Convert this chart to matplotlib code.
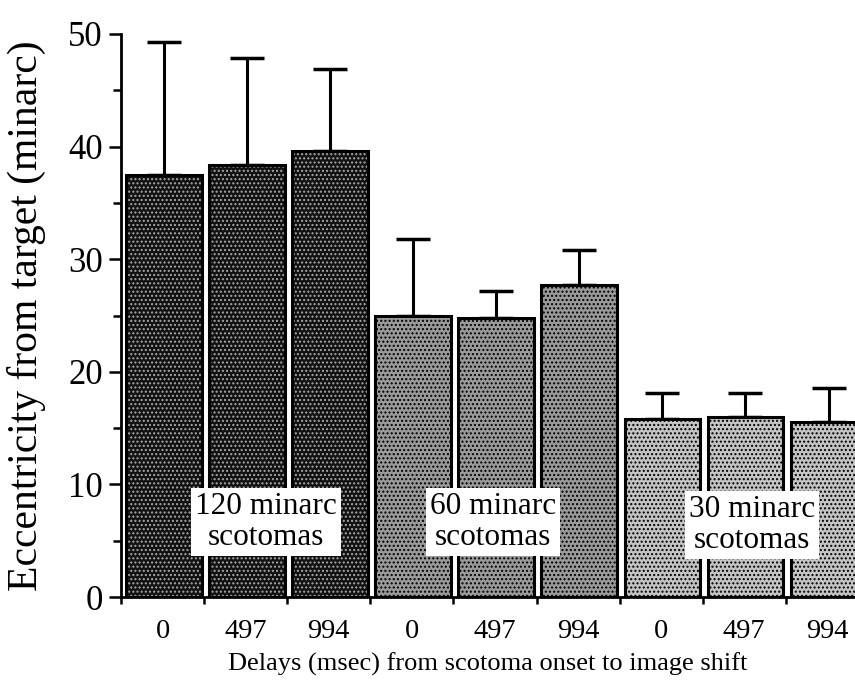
import matplotlib
matplotlib.use("Agg")
import matplotlib.pyplot as plt
import numpy as np

plt.rcParams['font.family'] = ['Liberation Serif', 'DejaVu Serif']

delays = ["0", "497", "994", "0", "497", "994", "0", "497", "994"]
groups = ["120 minarc\nscotomas", "60 minarc\nscotomas", "30 minarc\nscotomas"]
means = [37.5, 38.4, 39.6, 25.0, 24.8, 27.7, 15.8, 16.0, 15.5]
upper = [49.3, 47.9, 46.9, 31.8, 27.2, 30.8, 18.1, 18.1, 18.6]
errors = [u - m for u, m in zip(upper, means)]
yticks = [0, 10, 20, 30, 40, 50]

face = ['#111111'] * 3 + ['#9a9a9a'] * 3 + ['#c4c4c4'] * 3
hcol = ['#a8a8a8'] * 3 + ['black'] * 3 + ['black'] * 3

plt.rcParams['hatch.linewidth'] = 1.0

fig = plt.figure(figsize=(8.55, 6.92), dpi=100)
ax = fig.add_axes([121 / 855, 95 / 692, 1 - 121 / 855, 563 / 692])

x = np.arange(len(means))
width = 0.91
left = x + 0.06
for i in range(len(means)):
    ax.bar(left[i], means[i], width=width, align='edge', color=face[i],
           edgecolor=hcol[i], hatch='....', linewidth=0, zorder=2)
ax.bar(left, means, width=width, align='edge', facecolor='none',
       edgecolor='black', linewidth=2.2, zorder=3)
ax.errorbar(left + width / 2, means, yerr=[np.zeros(len(errors)), errors],
            fmt='none', ecolor='black', elinewidth=2.2, capsize=12.5,
            capthick=2.5, zorder=1)

label_pos = [(1.745, 6.66), (4.48, 6.66), (7.59, 6.4)]
for (gx, gy), g in zip(label_pos, groups):
    ax.text(gx, gy, g, ha='center', va='center', fontsize=22.5, linespacing=1.12,
            bbox=dict(facecolor='white', edgecolor='none', pad=3), zorder=5)

ax.set_xlim(0, (855 - 121) / 83.1)
ax.set_ylim(0, 50)
ax.set_xticks(np.arange(0, 9))
ax.set_xticklabels([])
ax.set_xticks(x + 0.5, minor=True)
ax.set_xticklabels(delays, minor=True, fontsize=20.5)
ax.tick_params(axis='x', which='major', direction='out', length=5, width=1.8)
ax.tick_params(axis='x', which='minor', length=0, pad=16)

ax.set_yticks(yticks)
ax.set_yticklabels([str(t) for t in yticks], fontsize=25)
ax.set_yticks(np.arange(5, 50, 10), minor=True)
ax.tick_params(axis='y', which='major', direction='out', length=9, width=1.8, pad=4)
ax.tick_params(axis='y', which='minor', direction='out', length=5.5, width=1.8)

for s in ['top', 'right']:
    ax.spines[s].set_visible(False)
ax.spines['left'].set_linewidth(2)
ax.spines['bottom'].set_linewidth(2)

ax.set_ylabel("Eccentricity from target (minarc)", fontsize=30)
ax.yaxis.set_label_coords(-(121 - 46) / 734, 0.5)
ax.set_xlabel("Delays (msec) from scotoma onset to image shift", fontsize=19)
ax.xaxis.set_label_coords(0.5, -(653 - 597) / 563)

fig.savefig("out.png", dpi=100)
